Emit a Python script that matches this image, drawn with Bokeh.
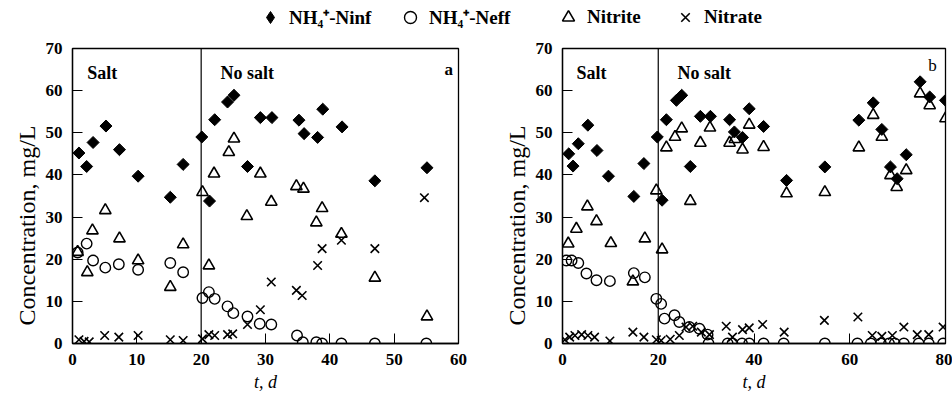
import math
from bokeh.plotting import figure
from bokeh.models import Range1d, Span, Label, Legend, LegendItem, FixedTicker, Title
from bokeh.layouts import column, row
from bokeh.embed import file_html
from bokeh.resources import INLINE

FONT = "Liberation Serif"

# ---------------- data: panel a ----------------
a_ninf_t = [1, 2.2, 3.2, 5.2, 7.3, 10.2, 15.2, 17.2, 20.1, 21.3, 22.1, 24.1, 25.1, 27.2, 29.2, 31, 35.2, 36, 38.1, 38.9, 41.9, 47, 55.1]
a_ninf_c = [45.2, 42, 47.7, 51.6, 46, 39.7, 34.7, 42.5, 49, 33.8, 53.1, 57.3, 58.9, 42, 53.6, 53.6, 53, 49.8, 48.9, 55.6, 51.4, 38.6, 41.7]

a_neff_t = [0.8, 2.2, 3.2, 5.1, 7.2, 10.2, 15.2, 17.2, 20.2, 21.2, 22.1, 24.1, 25, 27.2, 29.1, 30.9, 34.9, 35.8, 37.9, 38.8, 41.8, 47, 55]
a_neff_c = [21.6, 23.7, 19.7, 18, 18.8, 17.5, 19.1, 16.9, 10.8, 12.2, 10.6, 8.8, 7.2, 6.4, 4.7, 4.5, 1.9, 0.3, 0.3, 0, 0, 0, 0]

a_nitrite_t = [0.8, 2.3, 3.1, 5.1, 7.3, 10.2, 15.2, 17.2, 20.2, 21.2, 22, 24.3, 25.1, 27.1, 29.2, 30.9, 34.8, 35.9, 37.9, 38.8, 41.8, 47, 55.1]
a_nitrite_c = [21.7, 16.9, 26.8, 31.6, 24.9, 19.7, 13.4, 23.5, 35.9, 18.5, 40.3, 45.4, 48.6, 30.2, 40.3, 33.6, 37.3, 36.7, 28.7, 32.1, 26, 15.6, 6.4]

a_nitrate_t = [1, 1.8, 2.6, 5, 7.2, 10.2, 15.2, 17.2, 20.2, 21.2, 22.1, 24.1, 24.9, 27.2, 29.2, 30.9, 34.8, 35.7, 38.1, 38.8, 41.8, 47, 54.7]
a_nitrate_c = [0.9, 0.5, 0.4, 1.9, 1.5, 1.9, 0.9, 0.7, 1.1, 2.1, 1.9, 2.1, 2.3, 4.5, 8.0, 14.6, 12.6, 11.4, 18.5, 22.5, 24.5, 22.5, 34.6]

# ---------------- data: panel b ----------------
b_ninf_t = [1.3, 2.2, 3.3, 5.3, 7.2, 9.6, 14.9, 17, 19.8, 20.8, 21.7, 23.8, 24.9, 26.7, 28.8, 30.9, 34.9, 35.9, 37.6, 39, 42, 46.8, 54.8, 61.9, 64.9, 66.7, 68.5, 69.9, 71.8, 74.7, 76.7, 80]
b_ninf_c = [45, 42.1, 47.4, 51.8, 45.8, 39.7, 34.9, 42.7, 49, 34, 53.1, 57.7, 58.9, 42, 53.9, 53.9, 53.1, 50.2, 48.9, 55.7, 51.5, 38.7, 41.9, 53, 57.1, 50.8, 41.9, 39.1, 44.8, 62.1, 58.5, 57.7]

b_neff_t = [0.8, 1.9, 3.3, 5, 7.1, 9.9, 14.9, 17.2, 19.6, 20.6, 21.3, 23.4, 24.4, 26.5, 28.6, 30.3, 30.5, 34.5, 35.5, 37.5, 39, 42, 46.2, 54.8, 61.6, 64.4, 66.5, 68.2, 69.4, 71.3, 74.4, 76.5, 79.5]
b_neff_c = [19.7, 19.7, 19.1, 16.6, 15, 14.8, 16.7, 15.7, 10.6, 9.4, 5.9, 6.7, 5.1, 3.9, 3.5, 2.1, 0, 0, 0, 0, 0, 0, 0, 0, 0, 0, 0, 0, 0, 0, 0, 0, 0]

b_nitrite_t = [1.2, 2.9, 5.2, 7.1, 10.1, 14.7, 17.2, 19.6, 20.8, 21.7, 23.5, 24.9, 26.7, 28.8, 30.8, 34.9, 36, 37.6, 39, 42, 46.8, 54.8, 61.9, 64.9, 66.7, 68.5, 69.8, 71.8, 74.7, 76.7, 80]
b_nitrite_c = [23.7, 27.2, 32.5, 29, 23.8, 14.7, 24.9, 36.3, 22.3, 46.5, 49, 51, 33.8, 47.6, 51.2, 47.6, 48.5, 46, 51.9, 46.6, 35.6, 35.9, 46.5, 54.2, 49, 39.9, 37.1, 41.1, 59.3, 56.5, 53.4]

b_nitrate_t = [0.5, 1.5, 2.6, 4, 5.3, 6.7, 9.9, 14.7, 17, 19.6, 20.6, 22.5, 24.4, 25.8, 27.2, 29, 30.7, 34.2, 35.5, 37.6, 39, 41.8, 46.3, 54.7, 61.7, 64.7, 66.7, 68.9, 71.3, 74.1, 76.5, 79.5]
b_nitrate_c = [0.9, 1.5, 1.9, 2.1, 1.9, 1.5, 0.6, 2.7, 1.5, 0.9, 0.7, 1.0, 1.9, 3.9, 4.1, 2.7, 2.1, 4.1, 1.5, 3.3, 3.7, 4.5, 2.7, 5.5, 6.3, 1.9, 1.7, 1.9, 3.9, 2.1, 2.1, 3.9]

series_names = ["NH\u2084\u207a-Ninf", "NH\u2084\u207a-Neff", "Nitrite", "Nitrate"]
y_ticks = [0, 10, 20, 30, 40, 50, 60, 70]
a_x_ticks = [0, 10, 20, 30, 40, 50, 60]
b_x_ticks = [0, 20, 40, 60, 80]

MARKERS = [
    dict(marker="square", angle=math.pi / 4, size=8.5, fill_color="black", line_color="black", line_width=1),
    dict(marker="circle", size=10.5, fill_color=None, line_color="black", line_width=1.4),
    dict(marker="triangle", size=11.5, fill_color=None, line_color="black", line_width=1.6),
    dict(marker="x", size=12, line_color="black", line_width=1.6),
]
LEGEND_MARKERS = [
    dict(marker="diamond", fill_color="black", line_color="black", line_width=1),
    dict(marker="circle", fill_color=None, line_color="black", line_width=1.4),
    dict(marker="triangle", fill_color=None, line_color="black", line_width=1.6),
    dict(marker="x", line_color="black", line_width=1.6),
]


def add_series(p, t, c, k):
    return p.scatter(x=t, y=c, **MARKERS[k])


def panel(width, bl, br, xmax, xticks, data, tag, tag_x, tag_y, salt_x, nosalt_x, tag_bold):
    p = figure(width=width, height=364, output_backend="svg", toolbar_location=None,
               x_range=Range1d(0, xmax), y_range=Range1d(0, 70),
               min_border_left=bl, min_border_right=br, min_border_top=14, min_border_bottom=55)
    p.grid.visible = False
    p.background_fill_color = "white"
    p.border_fill_color = "white"
    p.outline_line_color = "black"
    p.outline_line_width = 1.3
    for ax in (p.xaxis[0], p.yaxis[0]):
        ax.major_tick_in = 10
        ax.major_tick_out = 0
        ax.minor_tick_line_color = None
        ax.axis_line_color = "black"
        ax.axis_line_width = 1.3
        ax.major_tick_line_width = 1
        ax.major_label_text_font = FONT
        ax.major_label_text_font_size = "17px"
        ax.major_label_text_font_style = "bold"
        ax.major_label_text_color = "black"
        ax.axis_label_text_font = FONT
        ax.axis_label_text_color = "black"
    p.xaxis.ticker = FixedTicker(ticks=xticks)
    p.yaxis.ticker = FixedTicker(ticks=y_ticks)
    p.xaxis.major_label_standoff = 10
    p.yaxis.major_label_standoff = 10
    p.xaxis.axis_label = "t, d"
    p.xaxis.axis_label_text_font_style = "italic"
    p.xaxis.axis_label_text_font_size = "18px"
    p.xaxis.axis_label_standoff = 4

    p.add_layout(Title(text="Concentration, mg/L", align="left", offset=18, standoff=6,
                       text_font=FONT, text_font_size="24px", text_font_style="normal",
                       text_color="black"), "left")

    p.add_layout(Span(location=20, dimension="height", line_color="black", line_width=1.2))

    for k, (t, c) in enumerate(data):
        add_series(p, t, c, k)

    for txt, x in (("Salt", salt_x), ("No salt", nosalt_x)):
        p.add_layout(Label(x=x, y=64.3, text=txt, text_font=FONT, text_font_size="18px",
                           text_font_style="bold", text_baseline="middle", text_align="left",
                           text_color="black"))
    p.add_layout(Label(x=tag_x, y=tag_y, text=tag, text_font=FONT, text_font_size="17px",
                       text_font_style="bold" if tag_bold else "normal",
                       text_baseline="middle", text_align="center", text_color="black"))
    return p


pa = panel(498, 72, 40, 60, a_x_ticks,
           [(a_ninf_t, a_ninf_c), (a_neff_t, a_neff_c), (a_nitrite_t, a_nitrite_c), (a_nitrate_t, a_nitrate_c)],
           "a", 58.5, 65, 2.3, 23.0, True)
pb = panel(454, 63, 7, 80, b_x_ticks,
           [(b_ninf_t, b_ninf_c), (b_neff_t, b_neff_c), (b_nitrite_t, b_nitrite_c), (b_nitrate_t, b_nitrate_c)],
           "b", 77.3, 66, 2.9, 24.0, False)

# legend strip
lg = figure(width=952, height=34, output_backend="svg", toolbar_location=None,
            x_range=Range1d(0, 1), y_range=Range1d(0, 1),
            x_axis_location=None, y_axis_location=None,
            min_border=0, outline_line_color=None)
lg.grid.visible = False
legend_left = [255, 395, 553, 670]
for k, name in enumerate(series_names):
    r = lg.scatter(x=[float("nan")], y=[float("nan")], **LEGEND_MARKERS[k])
    leg = Legend(items=[LegendItem(label=name, renderers=[r])], orientation="horizontal",
                 location=(legend_left[k], 2),
                 label_text_font=FONT, label_text_font_size="19px", label_text_font_style="bold",
                 label_text_color="black", glyph_width=30, glyph_height=30, label_standoff=4,
                 spacing=0, padding=0, margin=0, border_line_color=None, background_fill_alpha=0)
    lg.add_layout(leg, "center")

layout = column(lg, row(pa, pb))

open("out.html", "w").write(file_html(layout, INLINE))
